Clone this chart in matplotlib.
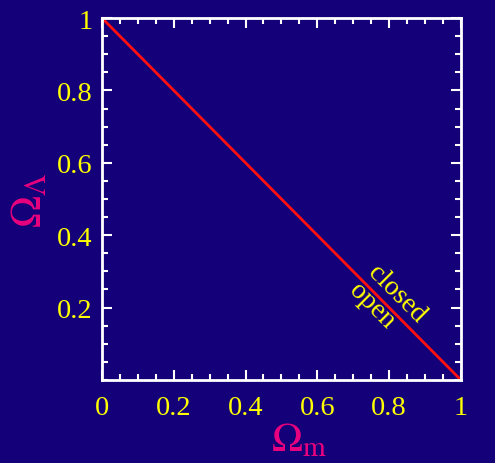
import matplotlib
matplotlib.use('Agg')
from matplotlib import pyplot as plt
from matplotlib.ticker import MultipleLocator, FixedLocator

# critical line Omega_m + Omega_Lambda = 1
omega_m = [0.0, 1.0]
omega_l = [1.0, 0.0]
xticks = [0, 0.2, 0.4, 0.6, 0.8, 1]
xticklabels = ['0', '0.2', '0.4', '0.6', '0.8', '1']
yticks = [0.2, 0.4, 0.6, 0.8, 1]
yticklabels = ['0.2', '0.4', '0.6', '0.8', '1']

bg = '#140078'
yellow = '#ffff00'
magenta = '#e8007e'

plt.rcParams['font.family'] = ['Liberation Serif', 'DejaVu Serif']
plt.rcParams['mathtext.fontset'] = 'stix'

fig = plt.figure(figsize=(4.95, 4.64), dpi=100, facecolor=bg)
ax = fig.add_axes([0.206, 0.179, 0.725, 0.780], facecolor=bg)

ax.plot(omega_m, omega_l, color='#ff1010', lw=2)
ax.set_xlim(0, 1)
ax.set_ylim(0, 1)

ax.xaxis.set_major_locator(FixedLocator(xticks))
ax.set_xticklabels(xticklabels)
ax.yaxis.set_major_locator(FixedLocator(yticks))
ax.set_yticklabels(yticklabels)
ax.xaxis.set_minor_locator(MultipleLocator(0.05))
ax.yaxis.set_minor_locator(MultipleLocator(0.05))

for s in ax.spines.values():
    s.set_color('white')
    s.set_linewidth(2)
ax.tick_params(which='both', direction='in', top=True, right=True,
               color='white', width=1.5, labelcolor=yellow, labelsize=20.5)
ax.tick_params(axis='x', which='major', length=7, pad=11)
ax.tick_params(axis='y', which='major', length=7, pad=7)
ax.tick_params(which='minor', length=4)

ax.set_xlabel(r'$\Omega_{\rm m}$', color=magenta, fontsize=30)
ax.xaxis.set_label_coords(0.55, -0.166, transform=ax.transAxes)
ax.xaxis.label.set_va('center')
ax.set_ylabel(r'$\Omega_\Lambda$', color=magenta, fontsize=31)
ax.yaxis.set_label_coords(-0.20, 0.5, transform=ax.transAxes)
ax.yaxis.label.set_va('center')

ax.text(0.822, 0.240, 'closed', color=yellow, fontsize=20, rotation=-45,
        ha='center', va='center', rotation_mode='anchor')
ax.text(0.752, 0.207, 'open', color=yellow, fontsize=20, rotation=-45,
        ha='center', va='center', rotation_mode='anchor')

fig.savefig('out.png', dpi=100, facecolor=bg)
